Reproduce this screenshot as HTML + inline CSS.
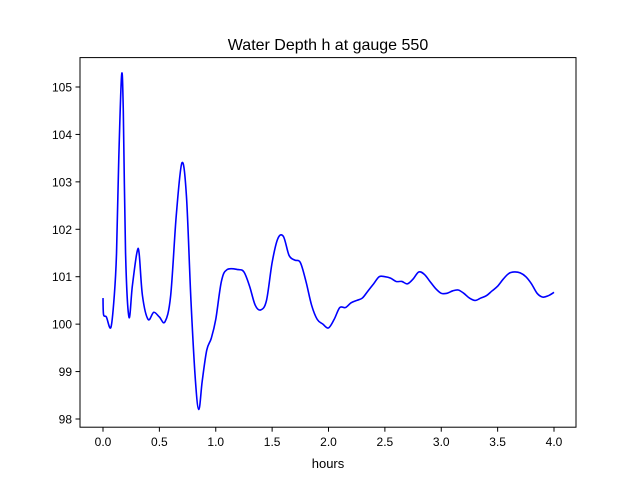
<!DOCTYPE html>
<html><head><meta charset="utf-8"><style>
body{margin:0;background:#fff}
text{font-family:"Liberation Sans","DejaVu Sans",sans-serif;fill:#000}
</style></head><body>
<svg id="c" width="640" height="480">
<rect width="640" height="480" fill="#fff"/>
<text x="328" y="50" font-size="16" text-anchor="middle">Water Depth h at gauge 550</text>
<g id="plot"></g>
<rect x="80" y="57.6" width="496" height="369.6" fill="none" stroke="#000" stroke-width="1"/>
<g id="xt"></g><g id="yt"></g>
<text x="328" y="468" font-size="13" text-anchor="middle">hours</text>
</svg>
<script>
const times=[0,0.005,0.03,0.07,0.1,0.12,0.14,0.165,0.18,0.2,0.23,0.26,0.3,0.32,0.35,0.4,0.45,0.5,0.55,0.6,0.65,0.7,0.74,0.78,0.82,0.85,0.88,0.92,0.96,1.0,1.05,1.1,1.2,1.25,1.3,1.35,1.4,1.45,1.5,1.55,1.6,1.65,1.7,1.75,1.8,1.85,1.9,1.95,2.0,2.05,2.1,2.15,2.2,2.25,2.3,2.35,2.4,2.45,2.5,2.55,2.6,2.65,2.7,2.75,2.8,2.85,2.9,2.95,3.0,3.05,3.1,3.15,3.2,3.25,3.3,3.35,3.4,3.45,3.5,3.55,3.6,3.65,3.7,3.75,3.8,3.85,3.9,3.95,4.0];
const depth=[100.55,100.2,100.15,99.93,100.6,101.5,103.5,105.25,104.5,101.5,100.15,100.8,101.5,101.5,100.6,100.1,100.25,100.15,100.05,100.6,102.3,103.4,102.7,100.5,98.8,98.2,98.8,99.45,99.7,100.1,100.9,101.15,101.15,101.1,100.8,100.4,100.3,100.5,101.3,101.8,101.85,101.45,101.35,101.3,100.9,100.4,100.1,100.0,99.92,100.1,100.35,100.35,100.45,100.5,100.55,100.7,100.85,101.0,101.0,100.97,100.9,100.9,100.85,100.95,101.1,101.05,100.9,100.75,100.65,100.65,100.7,100.72,100.65,100.55,100.5,100.55,100.6,100.7,100.8,100.95,101.07,101.1,101.08,101.0,100.85,100.65,100.57,100.6,100.67];
const xTicks=[0,0.5,1,1.5,2,2.5,3,3.5,4];
const xTickLabels=["0.0","0.5","1.0","1.5","2.0","2.5","3.0","3.5","4.0"];
const yTicks=[98,99,100,101,102,103,104,105];
const yTickLabels=["98","99","100","101","102","103","104","105"];
const X0=80,X1=576,Y0=427.2,Y1=57.6,xmin=-0.204,xmax=4.195,ymin=97.827,ymax=105.62;
const sx=v=>X0+(v-xmin)/(xmax-xmin)*(X1-X0);
const sy=v=>Y0-(v-ymin)/(ymax-ymin)*(Y0-Y1);
const NS="http://www.w3.org/2000/svg";
const pts=times.map((t,i)=>[sx(t),sy(depth[i])]);
let d="M"+pts[0][0]+","+pts[0][1];
for(let i=0;i<pts.length-1;i++){
 const p0=pts[Math.max(0,i-1)],p1=pts[i],p2=pts[i+1],p3=pts[Math.min(pts.length-1,i+2)];
 const c1=[p1[0]+(p2[0]-p0[0])/6,p1[1]+(p2[1]-p0[1])/6];
 const c2=[p2[0]-(p3[0]-p1[0])/6,p2[1]-(p3[1]-p1[1])/6];
 d+=" C"+c1+" "+c2+" "+p2;
}
const path=document.createElementNS(NS,"path");


path.setAttribute("d",d);path.setAttribute("fill","none");path.setAttribute("stroke","#0000ff");path.setAttribute("stroke-width","1.6");
document.getElementById("plot").appendChild(path);
const xt=document.getElementById("xt");
xTicks.forEach((v,i)=>{
 const l=document.createElementNS(NS,"line");
 
 
 l.setAttribute("x1",sx(v));l.setAttribute("x2",sx(v));l.setAttribute("y1",Y0);l.setAttribute("y2",Y0+4.5);l.setAttribute("stroke","#000");
 xt.appendChild(l);
 const t=document.createElementNS(NS,"text");
 
 
 t.setAttribute("x",sx(v));t.setAttribute("y",Y0+19);t.setAttribute("font-size","12");t.setAttribute("text-anchor","middle");
 t.textContent=xTickLabels[i];xt.appendChild(t);
});
const yt=document.getElementById("yt");
yTicks.forEach((v,i)=>{
 const l=document.createElementNS(NS,"line");
 
 
 l.setAttribute("x1",X0-4.5);l.setAttribute("x2",X0);l.setAttribute("y1",sy(v));l.setAttribute("y2",sy(v));l.setAttribute("stroke","#000");
 yt.appendChild(l);
 const t=document.createElementNS(NS,"text");
 
 
 t.setAttribute("x",X0-8);t.setAttribute("y",sy(v)+4.5);t.setAttribute("font-size","12");t.setAttribute("text-anchor","end");
 t.textContent=yTickLabels[i];yt.appendChild(t);
});
</script>
</body></html>
